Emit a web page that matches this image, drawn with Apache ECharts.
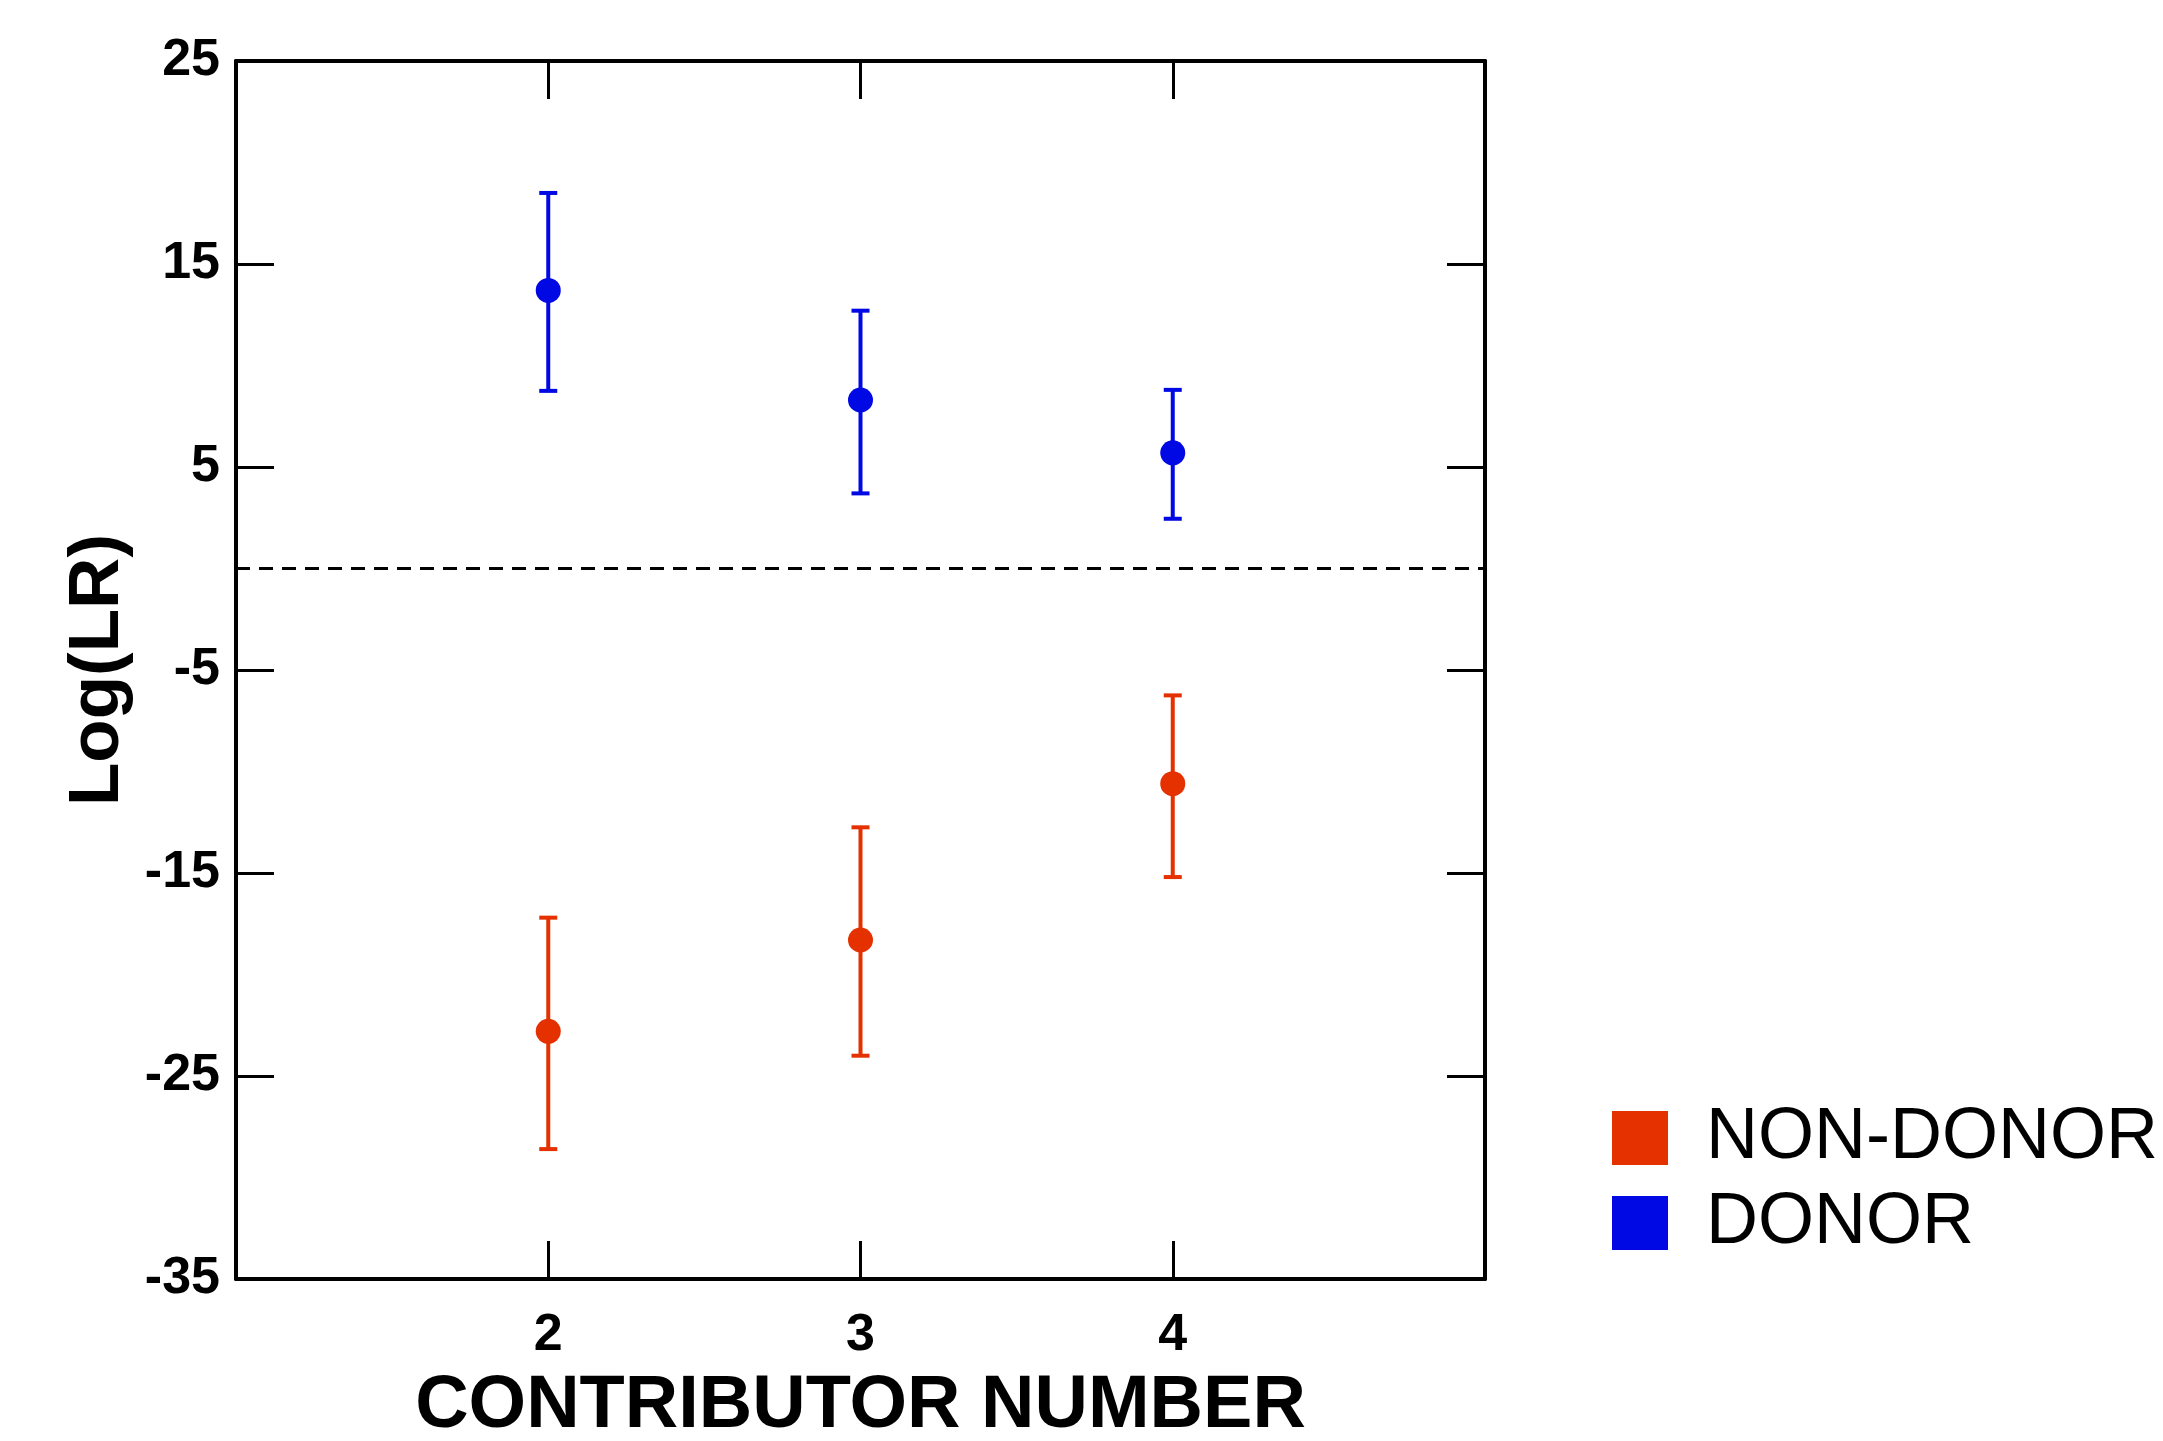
<!DOCTYPE html>
<html>
<head>
<meta charset="utf-8">
<script src="https://cdn.jsdelivr.net/npm/echarts@6/dist/echarts.min.js"></script>
<style>
html,body{margin:0;padding:0;background:#fff;}
#chart{width:2163px;height:1441px;}
</style>
</head>
<body>
<div id="chart"></div>
<script>
const categories = [2, 3, 4];
const donorMean = [13.7, 8.3, 5.7];
const donorHigh = [18.5, 12.7, 8.8];
const donorLow = [8.75, 3.7, 2.45];
const nonDonorMean = [-22.8, -18.3, -10.6];
const nonDonorHigh = [-17.2, -12.75, -6.25];
const nonDonorLow = [-28.6, -24.0, -15.2];
const seriesNames = ['NON-DONOR', 'DONOR'];

const RED = '#e53000';
const BLUE = '#0008e3';
const FONT = '"Liberation Sans", Arial, sans-serif';

function pts(means) { return categories.map((c, i) => [c, means[i]]); }
function bars(hi, lo) { return categories.map((c, i) => [c, hi[i], lo[i]]); }

function errorRenderer(color) {
  return function (params, api) {
    const x = api.value(0);
    const p1 = api.coord([x, api.value(1)]);
    const p2 = api.coord([x, api.value(2)]);
    const hw = 9;
    const st = { stroke: color, lineWidth: 4 };
    return {
      type: 'group',
      children: [
        { type: 'line', shape: { x1: p1[0], y1: p1[1], x2: p2[0], y2: p2[1] }, style: st },
        { type: 'line', shape: { x1: p1[0] - hw, y1: p1[1], x2: p1[0] + hw, y2: p1[1] }, style: st },
        { type: 'line', shape: { x1: p2[0] - hw, y1: p2[1], x2: p2[0] + hw, y2: p2[1] }, style: st }
      ]
    };
  };
}

const axisLine = { show: true, onZero: false, lineStyle: { color: '#000', width: 4 } };
const axisTick = { show: true, inside: true, length: 38, lineStyle: { color: '#000', width: 3 } };

const chart = echarts.init(document.getElementById('chart'));
chart.setOption({
  animation: false,
  backgroundColor: '#fff',
  grid: { left: 236, right: 678, top: 61, bottom: 162, containLabel: false, outerBoundsMode: 'none' },
  xAxis: [{
    type: 'value', min: 1, max: 5, interval: 1, position: 'bottom',
    axisLine: axisLine, axisTick: axisTick, splitLine: { show: false },
    axisLabel: {
      formatter: v => categories.includes(v) ? String(v) : '',
      fontSize: 52, fontWeight: 'bold', color: '#000', fontFamily: FONT, margin: 31
    },
    name: 'CONTRIBUTOR NUMBER', nameLocation: 'middle', nameGap: 91,
    nameTextStyle: { fontSize: 74, fontWeight: 'bold', color: '#000', fontFamily: FONT }
  }, {
    type: 'value', min: 1, max: 5, interval: 1, position: 'top',
    axisLine: axisLine, axisTick: axisTick, splitLine: { show: false },
    axisLabel: { show: false }
  }],
  yAxis: [{
    type: 'value', min: -35, max: 25, interval: 10, position: 'left',
    axisLine: axisLine, axisTick: axisTick, splitLine: { show: false },
    axisLabel: { fontSize: 52, fontWeight: 'bold', color: '#000', fontFamily: FONT, margin: 16 },
    name: 'Log(LR)', nameLocation: 'middle', nameGap: 88, nameRotate: 90,
    nameTextStyle: { fontSize: 71, fontWeight: 'bold', color: '#000', fontFamily: FONT }
  }, {
    type: 'value', min: -35, max: 25, interval: 10, position: 'right',
    axisLine: axisLine, axisTick: axisTick, splitLine: { show: false },
    axisLabel: { show: false }
  }],
  legend: {
    orient: 'vertical', left: 1607, top: 1097,
    itemWidth: 56, itemHeight: 54, itemGap: 13,
    textStyle: { fontSize: 72, color: '#000', fontFamily: FONT, lineHeight: 54, padding: [0, 0, 0, 33] },
    data: [
      { name: seriesNames[0], icon: 'rect', itemStyle: { color: RED, opacity: 1 } },
      { name: seriesNames[1], icon: 'rect', itemStyle: { color: BLUE, opacity: 1 } }
    ]
  },
  series: [{
    name: 'NON-DONOR range', type: 'custom', renderItem: errorRenderer(RED),
    encode: { x: 0, y: [1, 2] }, data: bars(nonDonorHigh, nonDonorLow), z: 2
  }, {
    name: 'DONOR range', type: 'custom', renderItem: errorRenderer(BLUE),
    encode: { x: 0, y: [1, 2] }, data: bars(donorHigh, donorLow), z: 2
  }, {
    name: seriesNames[0], type: 'scatter', symbol: 'circle', symbolSize: 25,
    itemStyle: { color: RED, opacity: 1 }, data: pts(nonDonorMean), z: 3,
    markLine: {
      silent: true, symbol: ['none', 'none'], label: { show: false },
      lineStyle: { color: '#000', type: [14, 9], width: 3 },
      data: [{ yAxis: 0 }]
    }
  }, {
    name: seriesNames[1], type: 'scatter', symbol: 'circle', symbolSize: 25,
    itemStyle: { color: BLUE, opacity: 1 }, data: pts(donorMean), z: 3
  }]
});
</script>
</body>
</html>
